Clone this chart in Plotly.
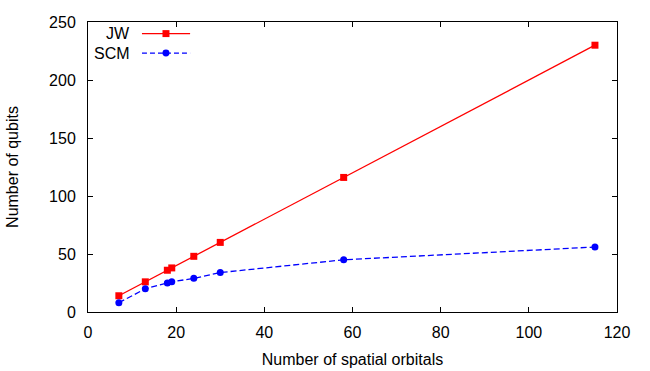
import plotly.graph_objects as go

orbitals = [7, 13, 18, 19, 24, 30, 58, 115]
jw_qubits = [14, 26, 36, 38, 48, 60, 116, 230]
scm_qubits = [8, 20, 25, 26, 29, 34, 45, 56]

x_ticks = [0, 20, 40, 60, 80, 100, 120]
y_ticks = [0, 50, 100, 150, 200, 250]

FONT = "Liberation Sans, Arial, Helvetica, sans-serif"
FS = 16

fig = go.Figure()
fig.add_trace(go.Scatter(x=orbitals, y=jw_qubits, mode="lines+markers", name="JW",
                         line=dict(color="#ff0000", width=1.3),
                         marker=dict(symbol="square", size=7, color="#ff0000")))
fig.add_trace(go.Scatter(x=orbitals, y=scm_qubits, mode="lines+markers", name="SCM",
                         line=dict(color="#0000ff", width=1.3, dash="6px,3px"),
                         marker=dict(symbol="circle", size=7, color="#0000ff")))

axis_common = dict(showgrid=False, zeroline=False, showline=True, linecolor="black",
                   linewidth=1, mirror="ticks", ticks="inside", ticklen=5, automargin=False,
                   tickcolor="black", tickfont=dict(family=FONT, size=FS, color="black"))

fig.update_xaxes(range=[0, 120], tickvals=x_ticks, ticklabelstandoff=6,
                 title=dict(text="Number of spatial orbitals",
                            font=dict(family=FONT, size=FS, color="black"), standoff=13),
                 **axis_common)
fig.update_yaxes(range=[0, 250], tickvals=y_ticks, ticklabelstandoff=8,
                 title=dict(text="Number of qubits",
                            font=dict(family=FONT, size=FS, color="black"), standoff=26),
                 **axis_common)

# gnuplot-style key: label right-aligned, sample to its right
key = [("JW", "#ff0000", "solid", "square", 0.960),
       ("SCM", "#0000ff", "5px,3px", "circle", 0.893)]
x0, x1, xc = 0.102, 0.193, 0.1474
for label, color, dash, sym, yk in key:
    fig.add_annotation(x=0.0815, y=yk, xref="paper", yref="paper", text=label,
                       showarrow=False, xanchor="right", yanchor="middle", borderpad=0,
                       font=dict(family=FONT, size=16, color="black"))
    fig.add_shape(type="line", xref="paper", yref="paper", x0=x0, x1=x1, y0=yk, y1=yk,
                  line=dict(color=color, width=1.3, dash=dash))
    hx, hy = 0.0066, 0.012
    fig.add_shape(type="rect" if sym == "square" else "circle", xref="paper", yref="paper",
                  x0=xc - hx, x1=xc + hx, y0=yk - hy, y1=yk + hy,
                  line=dict(color=color, width=0), fillcolor=color)

fig.update_layout(width=650, height=371, margin=dict(l=88, r=33, t=22, b=59),
                  plot_bgcolor="white", paper_bgcolor="white", showlegend=False,
                  font=dict(family=FONT, color="black"))

fig.write_html("out.html", config={"displayModeBar": False},
               post_script="document.body.style.margin='0';document.body.style.overflow='hidden';")
